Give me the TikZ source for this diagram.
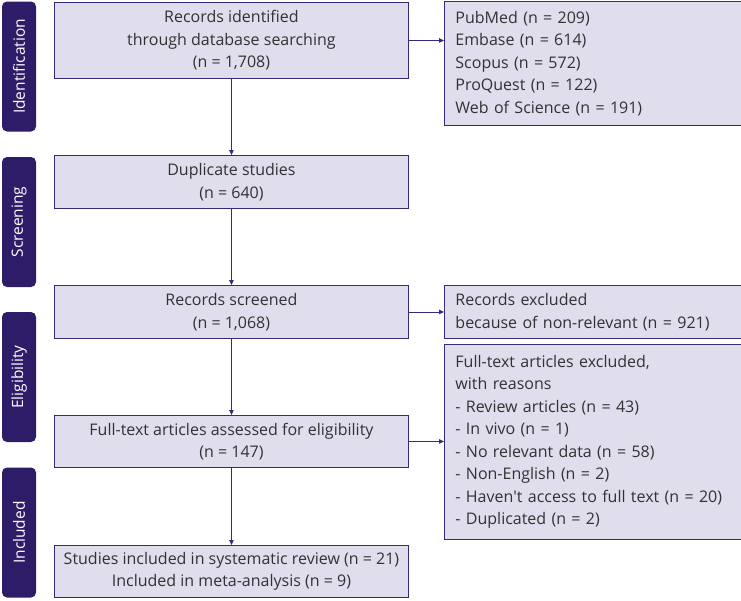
\documentclass[tikz,border=0pt]{standalone}
\usepackage{fontspec}
\setmainfont{Open Sans}
\usetikzlibrary{arrows.meta}
\definecolor{lav}{RGB}{224,221,236}
\definecolor{purp}{RGB}{58,40,122}
\definecolor{tabc}{RGB}{46,28,105}
\definecolor{txt}{RGB}{50,50,50}
\tikzset{
  box/.style={draw=purp, fill=lav, line width=0.9pt, text=txt, inner sep=0pt,
    font=\fontsize{16}{22.5}\selectfont, anchor=north west},
  lbox/.style={box, minimum width=354pt, align=center},
  rbox/.style={box, minimum width=295pt, text width=275pt, inner xsep=11pt, align=left},
  tab/.style={fill=tabc, rounded corners=5pt, rotate=90, minimum width=130pt,
    minimum height=34pt, inner sep=0pt, text=white, font=\fontsize{15.5}{18}\selectfont},
  arr/.style={draw=purp, line width=0.9pt, -{Triangle[length=5pt,width=4.5pt]}}
}
\begin{document}
\begin{tikzpicture}[x=1pt,y=-1pt]
\useasboundingbox (0,0) rectangle (741,600);

%phases
\node[tab] (tid) at (19,66.5) {Identification};
\node[tab] (tsc) at (19,222) {Screening};
\node[tab] (tel) at (19,377) {Eligibility};
\node[tab] (tin) at (19,532.5) {Included};
%fin

%main column
\node[lbox, minimum height=76pt] (rec) at (54,2) {Records identified\\through database searching\\(n = 1,708)};
\node[lbox, minimum height=53pt] (dup) at (54,155) {Duplicate studies\\(n = 640)};
\node[lbox, minimum height=53pt] (scr) at (54,285) {Records screened\\(n = 1,068)};
\node[lbox, minimum height=52pt] (full) at (54,415) {Full-text articles assessed for eligibility\\(n = 147)};
\node[lbox, minimum height=52pt] (incl) at (54,545) {Studies included in systematic review (n = 21)\\Included in meta-analysis (n = 9)};
%fin

%side boxes
\node[rbox, minimum height=124pt] (db) at (444,1) {PubMed (n = 209)\\Embase (n = 614)\\Scopus (n = 572)\\ProQuest (n = 122)\\Web of Science (n = 191)};
\node[rbox, minimum height=53pt] (exa) at (444,285) {Records excluded\\because of non-relevant (n = 921)};
\node[rbox, minimum height=195pt] (exb) at (444,344) {Full-text articles excluded,\\with reasons\\- Review articles (n = 43)\\- In vivo (n = 1)\\- No relevant data (n = 58)\\- Non-English (n = 2)\\- Haven\textquotesingle t access to full text (n = 20)\\- Duplicated (n = 2)};
%fin

%arrows
\draw[arr] (rec) -- (dup);
\draw[arr] (dup) -- (scr);
\draw[arr] (scr) -- (full);
\draw[arr] (full) -- (incl);
\draw[arr] (rec.east) -- (rec.east -| db.west);
\draw[arr] (scr.east) -- (scr.east -| exa.west);
\draw[arr] (full.east) -- (full.east -| exb.west);
%fin
\end{tikzpicture}
\end{document}
